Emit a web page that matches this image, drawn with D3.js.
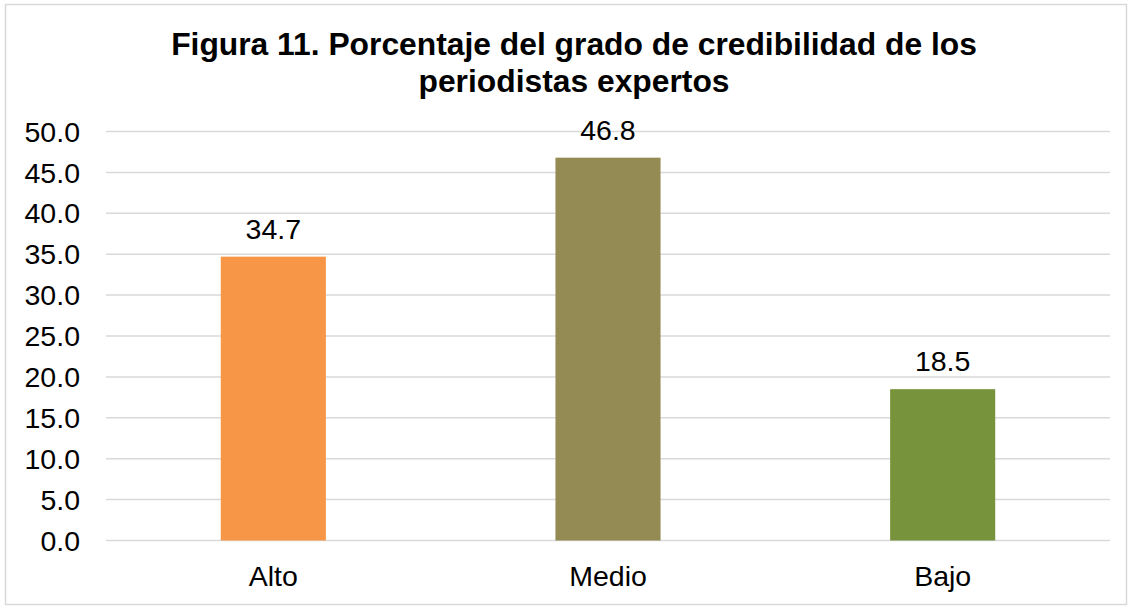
<!DOCTYPE html>
<html>
<head>
<meta charset="utf-8">
<script src="https://cdn.jsdelivr.net/npm/d3@7"></script>
<style>
  body { margin: 0; background: #fff; }
  text { font-family: "Liberation Sans", Arial, sans-serif; fill: #000; }
</style>
</head>
<body>
<div class="chart"></div>
<script>
// chart data
var categories = ["Alto", "Medio", "Bajo"];
var values = [34.7, 46.8, 18.5];
var barColors = ["#F79646", "#948A54", "#77933C"];
var yTicks = [0, 5, 10, 15, 20, 25, 30, 35, 40, 45, 50];
var titleLines = ["Figura 11. Porcentaje del grado de credibilidad de los", "periodistas expertos"];

var width = 1132,
    height = 608;

var svg = d3.select(".chart")
            .append("svg")
            .attr("width", width)
            .attr("height", height);

// outer border
svg.append("rect")
   .attr("x", 5.5)
   .attr("y", 4.5)
   .attr("width", 1121)
   .attr("height", 600)
   .attr("fill", "#fff")
   .attr("stroke", "#d9d9d9")
   .attr("stroke-width", 1.5);

// plot area
var plotLeft = 106, plotRight = 1110, plotTop = 131.5, plotBottom = 540.5;

var x = d3.scaleBand()
    .domain(categories)
    .range([plotLeft, plotRight])
    .paddingInner(0.686)
    .paddingOuter(0.343);

var y = d3.scaleLinear()
    .domain([0, 50])
    .range([plotBottom, plotTop]);

// gridlines
svg.append("g")
   .selectAll("line")
   .data(yTicks)
   .enter()
   .append("line")
   .attr("x1", plotLeft)
   .attr("x2", plotRight)
   .attr("y1", function(d) { return y(d); })
   .attr("y2", function(d) { return y(d); })
   .attr("stroke", "#d9d9d9")
   .attr("stroke-width", 1.5);

// y axis labels
svg.append("g")
   .selectAll("text")
   .data(yTicks)
   .enter()
   .append("text")
   .attr("x", 80)
   .attr("y", function(d) { return y(d); })
   .attr("dy", "0.355em")
   .attr("text-anchor", "end")
   .style("font-size", "28.5px")
   .text(function(d) { return d.toFixed(1); });

// bars
svg.append("g")
   .selectAll("rect")
   .data(values)
   .enter()
   .append("rect")
   .attr("x", function(d, i) { return x(categories[i]); })
   .attr("y", function(d) { return y(d); })
   .attr("width", x.bandwidth())
   .attr("height", function(d) { return plotBottom - y(d); })
   .attr("fill", function(d, i) { return barColors[i]; });

// value labels
svg.append("g")
   .selectAll("text")
   .data(values)
   .enter()
   .append("text")
   .attr("x", function(d, i) { return x(categories[i]) + x.bandwidth() / 2; })
   .attr("y", function(d) { return y(d) - 18; })
   .attr("text-anchor", "middle")
   .style("font-size", "28.5px")
   .text(function(d) { return d.toFixed(1); });

// category labels
svg.append("g")
   .selectAll("text")
   .data(categories)
   .enter()
   .append("text")
   .attr("x", function(d) { return x(d) + x.bandwidth() / 2; })
   .attr("y", 586)
   .attr("text-anchor", "middle")
   .style("font-size", "28.5px")
   .text(function(d) { return d; });

// title
svg.append("g")
   .selectAll("text")
   .data(titleLines)
   .enter()
   .append("text")
   .attr("x", 574)
   .attr("y", function(d, i) { return 55 + i * 37; })
   .attr("text-anchor", "middle")
   .style("font-size", "31.8px")
   .style("font-weight", "bold")
   .text(function(d) { return d; });
</script>
</body>
</html>
